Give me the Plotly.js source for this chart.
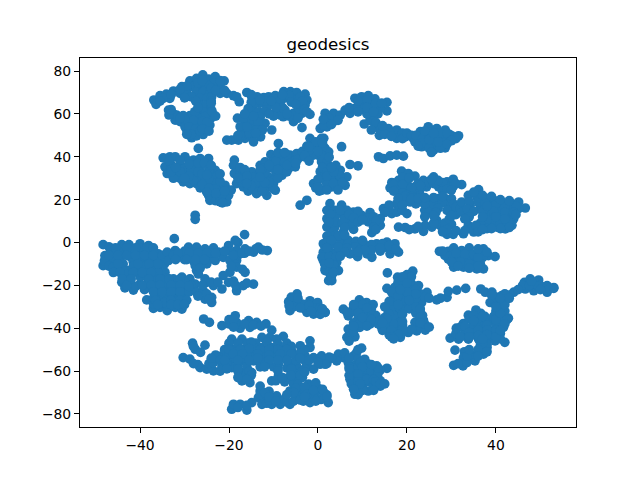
<!DOCTYPE html>
<html><head><meta charset="utf-8">
<script src="https://cdn.plot.ly/plotly-3.0.1.min.js"></script>
<style>html,body{margin:0;padding:0;background:#fff}</style></head>
<body><div id="chart" style="width:640px;height:480px"></div>
<script>
const chartTitle = "geodesics";
const xTicks = [-40,-20,0,20,40];
const yTicks = [-80,-60,-40,-20,0,20,40,60,80];
const northWestA = [[-36.9,66.5],[-36.4,64.5],[-35.5,68.5],[-34.1,69.2],[-32.5,70.7],[-30.6,72.7],[-28.8,75.4],[-27.3,76.6],[-25.9,78.2],[-24.6,76.3],[-23.1,77.4],[-21.1,75.4],[-22,72.7],[-23.5,74.3],[-25,73.5],[-26.5,73.5],[-28,72.7],[-29.5,70.4],[-31,69.6],[-33.3,67.3],[-34.8,67.3],[-27.3,70.4],[-25.8,70.4],[-24.3,70.4],[-26.5,67.3],[-25,67.3],[-23.9,68],[-26.5,64.2],[-25,64.2],[-26.9,61],[-25.4,61],[-24.1,58],[-25.4,58.7],[-27.3,58.7],[-28.8,59.2],[-30.3,59.2],[-31.8,59.5],[-33.6,61.8],[-32.1,57.1],[-31,56.4],[-29.5,56.4],[-27.6,56],[-24.3,54.8],[-26.5,55.1],[-29.5,52.5],[-28.4,48.9],[-27.3,49.8],[-25.8,50.4],[-29.9,54],[-28,51.7],[-20.5,69.6],[-19,68.5],[-17.7,65.7],[-18.3,68],[-22,69.6]];
const northWestAInner = [[-29.5,73],[-27,74.5],[-24,72],[-22,75.5],[-31,71.5],[-33,69],[-35.5,66],[-28.5,68],[-30,67.5],[-23,71],[-21,71],[-27.5,66],[-24,66],[-24,62],[-27.7,61],[-28,57],[-30,57.5],[-32.5,60],[-33.5,59.5],[-26,56.5],[-25,56],[-29,54],[-27.5,53],[-28.5,50.5],[-26.5,52],[-23.8,61],[-24,65],[-26,75.5],[-33,62],[-31,58],[-27,63],[-23,59],[-26,53],[-29.5,50.5],[-24.5,52]];
const northWestB = [[-16,70],[-14.9,68],[-13.7,68],[-12.2,67.6],[-11.1,68],[-9.6,68.5],[-7.7,70.4],[-6.2,70.4],[-4.8,70],[-2.9,69.2],[-2.5,66.5],[-2.9,64.2],[-1.8,59.8],[-3.6,60.3],[-5.5,60.3],[-7.7,67.3],[-6.2,67.3],[-4.8,66.5],[-8.5,64.2],[-7.4,61.8],[-4.4,62.6],[-10,65],[-11.5,64.2],[-13,65],[-14.5,64.2],[-14.9,61],[-13.4,61],[-11.5,62.6],[-9.3,61],[-15.3,58],[-16.4,55.6],[-18.1,58],[-16.8,52.5],[-15.3,52.5],[-14.9,49.3],[-16.4,48.6],[-17.9,47.8],[-19.4,47.8],[-20.5,47.8],[-14.5,54.8],[-17.5,54],[-12.6,54],[-12.9,49.3],[-10.4,52.5],[-11.9,55.6],[-5.5,56.4],[-3.6,53.6],[-7.8,58.7],[-8.9,46.2],[-8.5,59.5]];
const northWestBInner = [[-15,65.5],[-12,66],[-10,67],[-8.5,66],[-6.5,68.5],[-4,68],[-3.5,66],[-8,63],[-9.5,63],[-12,61],[-13,58.5],[-15.5,56.5],[-13.5,56],[-17,50],[-15.5,50.5],[-13.8,52.5],[-6.5,59],[-4.5,58],[-16.8,58],[-15.7,62.5],[-12.5,52.5],[-13,66.5],[-15,69],[-10.5,66],[-8,69],[-6,65.5],[-5,64.5],[-3,62],[-2.5,61],[-7,60],[-10,59],[-11,60],[-14.5,59],[-16.5,60],[-15.5,51],[-17.5,50],[-14.5,47],[-18,50],[-16,54],[-14,51]];
const westMiddleA = [[-26.9,43.9],[-34.8,39.5],[-33.3,40],[-32.1,40],[-29.9,40],[-28,38.4],[-24.6,39.2],[-26.5,39.2],[-34.4,35.3],[-32.9,36.1],[-31,36.1],[-29.5,35.3],[-27.6,35.3],[-26.5,34.5],[-33.9,32.2],[-32.1,32.2],[-30.3,32.2],[-28.4,32.2],[-26.9,30.6],[-30.3,28.3],[-28.8,27.5],[-27.3,27.5],[-25.8,29.8],[-23.1,33.7],[-23.9,31.4],[-22.8,30.6],[-23.5,27.5],[-25,26],[-22,26.7],[-20.9,26.7],[-20.5,24.4],[-24.6,22],[-24.3,19.7],[-22.8,22],[-21.3,20.5],[-20.5,19],[-20.1,22],[-22,24.4],[-27.6,12.7],[-27.6,10.8]];
const westMiddleAInner = [[-33.5,38],[-31,38.5],[-29,38],[-27,37],[-25.5,37],[-33,34],[-30.5,34],[-28.5,34],[-31,30],[-29,30],[-27.5,30],[-32.5,30],[-24.5,29.5],[-25,24],[-26.5,25.5],[-23,25],[-21.5,22.5],[-23,19.5],[-22,19],[-26,27],[-28,29],[-24.5,34],[-22,28.5],[-19.5,24.5],[-33,33],[-31,33],[-29,31],[-27,33],[-32,35],[-29,36.5],[-26,32],[-30,30],[-25,31.5],[-24,36],[-22,32],[-24.5,25.5],[-23,23],[-21,24],[-25,23.5],[-21.5,18.5]];
const westMiddleB = [[-18.8,38.4],[-19,36],[-18.8,32.2],[-17.5,32.2],[-18.3,27.5],[-16.8,30.6],[-16.8,26],[-15.3,25.2],[-13.8,22.8],[-11.5,22],[-9.6,24.4],[-11.1,26],[-13,26],[-14.9,28.3],[-16,29],[-14.9,33],[-13,36],[-11.9,37.6],[-10.6,41],[-9.3,40],[-7.8,40],[-6.3,40.8],[-4.8,41.5],[-5.1,35.3],[-6.6,34.5],[-8.1,31.4],[-10,34.5],[-11.5,34.5],[-13,32.2],[-11.1,30.6],[-12.6,29.8],[-8.5,36],[-10.4,37.6]];
const westMiddleBInner = [[-17.5,35],[-17,28],[-14.5,30.5],[-13,28],[-12,24],[-14.5,25],[-10,27.5],[-9.3,32],[-9.5,38],[-7.5,37.5],[-6,37.5],[-5,38.5],[-12,32.5],[-15.7,24],[-12.5,34.5],[-8,34],[-10,29],[-16.5,34],[-7,41],[-4.5,39],[-3.5,42.5],[-16,31],[-14,28],[-15,26.5],[-12.5,24],[-10,25],[-11,28],[-9,30],[-7,33],[-9,34],[-11,36],[-13,34],[-7,36],[-5,37],[-9,42],[-7.5,42],[-12,28],[-13,30.5],[-3,40],[-16,27.5],[-18,30]];
const centerUpper = [[-1.8,48.6],[1.3,48.6],[-2.5,45],[-1,45.4],[0.5,44.7],[1.6,43.9],[-1,40.8],[0.5,40],[2.4,42.3],[0.8,48.6],[1.2,44.7],[0.8,40.8],[5.3,44.7],[-4,17.4],[-2.5,19.7],[0.5,33],[1.6,31.4],[-1,27.5],[0.3,24],[0.8,37.6],[2.3,36],[7.2,36.4],[9,35.8],[3.5,31.4],[5,33.7],[6.5,30.6],[6.1,26.7],[3.1,26],[0.8,24.4],[1.6,29],[4.6,29]];
const centerUpperInner = [[-0.5,47],[0,42.5],[-2,43],[1,46.5],[-2,44.5],[2,37.5],[3.5,34],[1,35],[3,29],[5,27],[2,27],[0,29.5],[-0.5,25.5],[2,33],[5,31],[4,36],[-3,40.5],[-2,38],[2.5,39.8],[0,26],[2,24.5],[3.5,27.5],[5.5,28],[2,31],[3.5,33],[3,35],[4.5,24.5]];
const northCenter = [[1.6,60.3],[0.5,53.2],[2,54],[3.5,60.3],[1.2,54.8],[3.5,56.4],[5,59.5],[6.1,61.8],[7.2,60.3],[8.3,62.6],[8.3,67.3],[9.8,68],[11.3,68.5],[12.8,67],[15.5,65.4],[15.5,61.4],[14,62.6],[9.8,65],[11.3,65],[12.8,63.4],[10.6,61.8],[11.7,58.7],[10.4,55.3],[11.7,57],[12.8,54],[13.8,50],[15.8,53.2],[17.7,52.5],[17.7,48.6],[16.2,51],[19.6,49.3],[21.4,48.6],[13.6,40],[14.7,39.2],[16.2,40.4],[17.7,40.8],[19.2,40.3]];
const northCenterInner = [[2.5,58],[4.5,57],[7,63],[9,63.5],[9,66],[11,66.5],[13,65],[14.3,65],[13.5,60],[12.5,59.5],[11,60],[13,56],[14,52.5],[15,50.5],[19,51],[20.5,50],[10.5,63],[1.2,57.5],[3,55],[11,63],[12.5,61],[9,61],[12,52.5],[14.5,54.5],[16.5,49.5],[19,48.5],[20,51],[21,50]];
const northEast = [[23,51.7],[24.8,54],[26.7,53.2],[28.6,52.5],[31.6,49.8],[30.1,49.8],[24.8,49.3],[26.7,49.3],[28.6,48.6],[23.3,44.7],[26,43.1],[28.6,44.2],[21.8,47],[24.4,46.2],[26.7,45.4],[22,50],[23.5,48.5],[25.5,51.5],[27.5,51],[29.5,50.5],[23.5,46.5],[26,47],[28,46.5],[27.5,44],[25,44],[29,51],[31,48.5],[24,52],[27,47],[30,47.5],[22.5,45],[25,48],[29,46],[26,51],[25.5,42]];
const eastBandA = [[18.8,33.3],[20.3,32.2],[21.8,31],[16.6,28],[16.2,25.5],[18.1,29],[18.1,26],[20,28.3],[20,24.4],[21.8,26],[21.4,22.8],[23.7,29],[26,30.6],[24.4,26],[27.1,26],[29,28.3],[30.4,29.5],[32.3,27],[28.6,26],[19,30.5],[20.5,30],[17,27],[19,25],[22.5,27.5],[23,25],[25,28],[26,27.5],[28,28],[27,29],[30.5,26.5],[22.5,24],[25.5,29.5],[31,27.5],[19,27],[23,26.5],[28,24],[29,25],[30,24.5],[17.5,24.5],[19,23],[21,25.5],[20,22],[22,21],[23,22],[17,24]];
const eastBandB = [[17.7,18.1],[19.6,19.7],[20.7,18.9],[14.7,15.8],[16.6,13.5],[17.7,14.2],[20,13.5],[25.2,19.7],[27.1,20.5],[28.6,20.5],[24,15],[25.6,17.4],[29.3,17.4],[30.4,15],[23,19],[18.1,7.2],[19.6,7],[21.8,6.4],[24.1,8],[23.7,5.2],[26.7,10.3],[25.6,7.2],[27.4,8],[30,8.5],[29,3.8],[30.4,3.8],[32.7,4.1],[18.5,16.5],[16,15.5],[19,15],[22,18],[24,18],[26,18],[28,18.5],[30,18],[27,16],[31,13],[20.5,6],[22.5,7.5],[26,9],[28.5,9],[29,6],[31,5.5],[28,5],[19.5,21.5],[18,20.5],[21,21.5],[16,17.5],[15,14],[19,17.5],[21,20.5],[22.5,20.5],[24,21],[26,21],[28,21.5],[30,20.5],[30.5,18],[25,14],[26.5,14],[29,15],[31,16.5],[26,12.5],[29.5,11],[32,16],[30,12.5],[24,12]];
const eastLarge = [[36.1,24.7],[33.8,22],[35.7,21.3],[38,20.5],[39.5,19.7],[41.7,18.1],[43.6,18.1],[45.1,18.9],[46.6,16.1],[32.3,18.9],[32.3,14.2],[34.2,17.4],[36.5,16.6],[38.7,16.6],[41,15.8],[43.2,15.8],[45.1,15.8],[38.3,12.7],[40.6,12.7],[42.8,12.7],[44,11.1],[43.6,8],[42.1,6.4],[40.2,7.2],[38.3,8],[36.8,6.4],[35,4.9],[33.8,8],[34,19],[36,19],[37.5,18.5],[40,18],[42,16.5],[44.5,17],[33.5,15.5],[35,14.5],[37,14.5],[39.5,14.5],[42,14],[44,14],[41,10],[39.5,10],[42.8,9.5],[38,10.5],[36.5,9],[41,8.5],[37,12],[34.5,6.5],[38,6.5],[40,12],[42,11],[34,12],[33,11],[35.5,8],[33,5.5],[38,17],[41,20],[43,19.5],[37,22],[35,23.5],[39,21.5],[44.5,13],[43,7],[41,6.5],[39,6.5],[36,5],[37,6]];
const centerMiddle = [[2.7,18.1],[5.3,17.4],[2,15],[3.8,15],[8,14.2],[9.8,12.7],[11.7,14],[11.3,9.6],[14,8],[14,11.1],[12.1,4.6],[8,6.1],[7.2,8.8],[5.7,12.7],[3.8,11.1],[2,11.1],[2,7.2],[3.8,7.2],[5.7,4.9],[2.7,3.3],[5,1.8],[6.8,1],[10.2,-0.3],[13.2,-0.6],[15.5,0.2],[17.3,-0.6],[1.2,-0.6],[3.1,-0.6],[5,-0.6],[6.8,-0.6],[7.2,-5.3],[8.9,-6.6],[10.2,-1.4],[11,-5.3],[12.1,-6.9],[13.2,-1.4],[15.1,-2.2],[16.2,-5.3],[18.1,-4.5],[1.2,-4.5],[2.7,-4.5],[4.2,-4.5],[1.2,-8.4],[3.1,-8.4],[4.6,-13.1],[3.1,-17.8],[2.7,-14.7],[1.6,-12.3],[4.2,-9.2],[0.9,-6.9],[1.6,-13.1],[2.4,-17.8]];
const centerMiddleInner = [[4,13],[6.5,15],[9,14.5],[2.8,13],[4,9.5],[2.5,9.5],[5.5,9],[6,11],[11,11.5],[12.5,9.5],[12.5,12],[3.5,5],[2,3],[4,3.5],[2,0.5],[8.5,0.5],[12,-1],[14.5,-0.5],[16.5,-3],[17,-3],[8.5,-2],[9.5,-3.5],[12,-3.5],[14,-4],[2.5,-2],[4.5,-2],[6.5,-2.5],[2.5,-6.5],[4,-7],[2.5,-11],[3.5,-12],[3,-16],[3.5,-10],[1.5,-10],[5,15],[7,13],[8,11.5],[9,9.5],[10,10.5],[13,10],[12.5,7],[13,6],[6,7],[4.5,3],[3,1],[6,3.5],[10,1],[16,-1.5],[17.5,-3],[14,-2.5],[10.5,-3.5],[6,-4.5],[5,-6.5],[2,-2.5],[3.5,-10.5],[3.5,-14],[2.5,-9.5],[9,-4.5]];
const eastSmall = [[27.3,-4.1],[29.3,-4.1],[30.8,-3.8],[32.3,-3.8],[33.8,-4.5],[37.2,-3],[39.8,-6.6],[38.3,-6.1],[35.7,-6.1],[29.3,-7.7],[31.2,-7.7],[33.1,-7.7],[35,-8.4],[30.5,-11.5],[32.7,-11.5],[37.2,-12.3],[35.7,-12.3],[30,-6],[32,-6],[34,-6],[36.5,-5],[37,-7],[31,-9.5],[33,-9.5],[35,-10.5],[36.5,-10],[28.5,-6],[34,-2.5],[30.5,-2.5],[28,-4],[31,-5],[33,-5.5],[35,-5.5],[36,-7],[32,-9],[34,-10],[30,-9],[36,-11],[34,-12],[31.5,-11],[38,-4.5],[36,-3]];
const southCenterA = [[15.6,-14.2],[17.9,-16.2],[21.3,-13.4],[20.3,-17],[15.5,-21.4],[17.3,-20.9],[19.2,-19.4],[21.1,-19.4],[22.6,-20.1],[24.5,-23.3],[23,-24],[21.1,-24],[19.2,-24.8],[17.7,-27.2],[16.6,-29.5],[15.8,-32.6],[17.7,-32.6],[19.6,-29.5],[21.4,-28.7],[23.3,-28],[23,-32.6],[26.7,-26.8],[29,-25.6],[29.3,-22.8],[31.2,-22.2],[33.2,-21.4],[17,-36.5],[18.5,-35.7],[16.2,-39.6],[18.1,-40.4],[18.5,-44.3],[16,-43.1],[14.3,-39.6],[23.7,-36.2],[21.8,-37.3],[23,-39.6],[24.1,-40.9],[20.3,-42],[22.2,-41.2]];
const southCenterAInner = [[20,-21],[22,-22],[18,-23],[17,-25],[19,-27],[20.5,-25],[22,-26],[24,-25.5],[25,-26],[27.5,-26],[16.5,-31],[18.5,-31],[20.5,-31],[17,-34],[19,-33.5],[22,-33],[23.5,-34],[22,-30],[17,-38],[19,-38.5],[17,-42],[19,-42],[21,-40.5],[24,-38],[15,-37.5],[14.5,-41],[18,-18.5],[20,-15],[21,-16],[23,-31],[16.5,-23],[18,-25],[20,-23],[22,-24],[18.5,-22],[16,-27.5],[15,-30],[15,-35],[16,-33.5],[18,-29],[20.5,-27],[15.5,-35.5],[16.5,-41],[19,-40.5],[19,-37],[18,-43],[16.5,-44],[17,-45],[23,-35],[25,-39.5],[23,-37.5],[19,-16],[20,-19]];
const southCenterB = [[5.7,-31.1],[6.8,-34.2],[8,-30.3],[9.3,-26.8],[10.9,-28],[12.4,-29],[9.4,-31.1],[11.3,-32.6],[9,-35.7],[10.9,-36.5],[12.8,-36.5],[9.4,-39.6],[11.7,-38.1],[6.8,-40.4],[6.5,-44.3],[8.3,-44],[1.6,-32.6],[7.5,-32.5],[10,-29],[8,-37.5],[7.5,-42],[9.5,-37.5],[10.5,-34],[12,-34],[13,-34],[13.5,-38],[10,-33],[8,-39.5],[8,-29],[6.5,-32.5],[9,-33],[12,-31],[11,-30.5],[10,-35],[12,-36],[14,-36.5],[14.5,-37.5],[11,-39],[8,-41.5],[7,-46],[8,-39]];
const southCenterC = [[0.8,-52.9],[2,-56.5],[4.6,-52.1],[5.7,-53.7],[4.2,-55.2],[8,-52.9],[9.8,-49.3],[8.7,-51.3],[6.8,-56],[8.7,-56.8],[11.3,-56.8],[13.2,-57.6],[15.5,-58.7],[7.2,-63.8],[9.1,-60.7],[10.9,-60.7],[12.8,-61.5],[8.3,-67.7],[8.3,-70.8],[10.2,-65.4],[11.3,-69.3],[14,-67],[12.8,-66.2],[0.45,-56.8],[0.45,-68.5],[2,-71.1],[2.3,-74.7],[0.8,-73.2],[6,-51.5],[7,-54],[9,-54.5],[10.5,-54.5],[12.5,-59],[14,-59.5],[8,-59],[8,-62],[8,-65],[9.5,-63],[11.5,-63],[13,-63.5],[10,-67.5],[12.5,-68],[9.5,-69.5],[9,-58],[11,-59],[14,-64.5],[7.5,-61],[11.5,-65],[3,-54],[1.5,-54.5],[1.5,-72],[9,-50],[7,-58],[9.5,-56],[10,-58],[12,-60],[13.5,-61],[7,-62],[9,-61.5],[7.5,-66],[9,-65],[11,-64],[12.5,-64],[13,-65],[10,-69],[9,-71],[12.5,-69],[14,-66],[9.5,-66],[7,-59],[8,-68.5],[15,-66],[13.5,-58.5],[12,-57],[2.5,-53.5],[0,-54.5]];
const eastLower = [[36.6,-21.7],[37.6,-23.2],[39.1,-23.2],[41.3,-24.8],[44,-23.2],[46.4,-18.6],[47.7,-17],[49.6,-17.5],[51.5,-20.1],[53,-21.4],[51.5,-23.2],[48.5,-22.5],[46.6,-21.7],[50,-20.1],[38.7,-28],[40.6,-27.2],[42.1,-27.2],[41.3,-31],[41,-34.2],[42.8,-35.3],[41.7,-39.6],[33.8,-33.9],[36.6,-33.1],[32.7,-37.8],[35,-37.3],[38,-36.5],[39.5,-36.5],[31.1,-40],[33.1,-41.2],[35.3,-41.2],[37.6,-40.4],[39.8,-40.4],[29.7,-44.6],[31.6,-45.1],[33.8,-45.1],[36.1,-45.1],[38.3,-45.1],[39.8,-45.9],[42,-46.6],[38,-49],[36.5,-48.2],[37.2,-52.1],[35.3,-55.2],[30.8,-50.2],[32.9,-51],[32.7,-53.7],[30.5,-57.3],[32.6,-57.6],[34.6,-54.4],[35.7,-52.1]];
const eastLowerInner = [[46,-20],[48,-19.5],[49.5,-20.5],[52,-21.5],[43,-24.5],[42,-24],[40,-25.5],[41,-29],[42,-32],[40,-32],[39.5,-34.5],[41,-36.5],[40,-38.5],[37,-38.5],[34,-35.5],[36,-35.5],[32,-39.5],[34.5,-39.5],[31,-42.5],[33,-43],[35,-43],[37.5,-43],[39.5,-43],[41,-42.5],[36.5,-46.5],[38,-47.5],[36.5,-50.5],[37,-47],[35,-53.5],[31.5,-56.5],[33.5,-56],[37.5,-34.5],[35.5,-31.5],[41,-45],[34,-52.5],[35,-34],[37,-34.5],[40,-36],[38,-38.5],[36,-40],[33,-39],[34,-42],[36,-41],[38,-41],[40,-41],[36,-43.5],[38,-43],[40,-44],[32,-44],[34,-44],[37,-45],[36,-50],[38,-51],[36,-53],[41,-33],[40,-30],[42,-29],[43,-26],[41,-26],[39,-24.5],[42.5,-36],[42,-38],[41,-41],[35,-36.5],[33.5,-53],[34,-50],[47.5,-20],[50,-22],[53,-21],[48,-18],[45,-22]];
const westMain = [[-48.3,-1],[-44.1,-1],[-40,-0.6],[-38.1,-1.4],[-47.9,-6.1],[-46,-5.3],[-44.1,-4.5],[-41.5,-4.5],[-39.6,-4.5],[-37.8,-4.5],[-35.9,-5.3],[-48.3,-10.8],[-46,-9.2],[-43.8,-10],[-41.5,-9.2],[-39.3,-8.4],[-37,-8.4],[-45.3,-13.1],[-42.6,-13.1],[-40.4,-12.3],[-38.1,-13.1],[-35.9,-11.5],[-34.4,-13.9],[-44.1,-18.6],[-43.4,-21.2],[-41.5,-22.2],[-42.3,-18.6],[-40,-19.4],[-38.1,-18.6],[-38.5,-26.8],[-36.6,-18.6],[-34.4,-18.6],[-32.5,-17],[-30.6,-16.2],[-28.8,-17],[-27.3,-13.1],[-27.6,-19.4],[-35.5,-22.5],[-33.6,-21.7],[-31.8,-21],[-29.5,-21],[-29.9,-24.8],[-31.8,-25.6],[-34,-25.6],[-35.9,-26.4],[-37,-30.7],[-35.5,-30.3],[-33.9,-31.8],[-32.1,-30.3],[-30.6,-31.1],[-34,-28.7]];
const westMainInner = [[-47,-2],[-42.5,-1],[-40,-2.5],[-46.5,-3],[-48,-8.5],[-46,-7.5],[-44.5,-7.5],[-42,-7],[-40,-6.5],[-38,-6.5],[-36,-7.5],[-47,-11],[-44.5,-12],[-43.5,-13.5],[-41.5,-11],[-39,-11],[-37,-11],[-34.5,-10],[-36,-14],[-36.5,-17],[-40,-16],[-38.5,-16],[-34,-16.5],[-32,-19],[-30,-18.5],[-38,-21],[-36,-20.5],[-34.5,-20],[-41,-20.5],[-39,-22],[-36.5,-24],[-33,-24],[-31,-23],[-28,-19.5],[-37,-28.5],[-32,-28],[-30,-28],[-37,-26],[-34.5,-28],[-43,-15],[-46,-11.5],[-45.5,-2.5],[-43,-2.5],[-41,-2.5],[-38.5,-2.5],[-37,-2.5],[-47,-6],[-45,-6],[-43,-6],[-41,-6],[-39,-6],[-37,-6],[-35,-6],[-45,-10],[-40.5,-10],[-38,-10],[-36,-10],[-46,-14],[-44.5,-14],[-41.5,-14],[-39.5,-14],[-37.5,-14],[-44,-17],[-42,-17],[-38,-17],[-35.5,-17],[-33.5,-17],[-31,-17],[-43,-20],[-39.5,-20],[-37.5,-20],[-35.5,-20],[-33,-20],[-31,-20],[-28.5,-20],[-37,-23],[-35,-23],[-33,-23],[-31,-23],[-29,-23],[-36.5,-27],[-33,-27],[-31,-27],[-29.5,-27],[-36,-29],[-33,-29],[-31.5,-29],[-30,-29]];
const westBranch = [[-33.9,-4.5],[-32.1,-3.75],[-31,-6.1],[-29.1,-2.2],[-27.3,-2.2],[-25.4,-3],[-23.5,-2.5],[-22.4,-4.5],[-28.8,-6.9],[-26.5,-6.9],[-24.3,-7.7],[-23.1,-8.4],[-33.6,-8.4],[-27.6,-10.8],[-26.9,-14.7],[-25.4,-17],[-21.3,-6.9],[-32.3,1.8],[-16.5,3.7],[-18,0],[-18.6,1],[-20.1,-1.4],[-18.3,-3.75],[-16.4,-3],[-14.5,-4.5],[-13.4,-2.2],[-11.4,-3.75],[-19.8,-8.4],[-18.3,-8.4],[-18.3,-11.5],[-16.4,-13.9],[-19.8,-13.9],[-21.3,-15.4],[-25,-18.6],[-23.5,-20.1],[-21.6,-21.7],[-20.1,-18.6],[-18.3,-22.5],[-16.8,-20.1],[-14.5,-19.4],[-27.3,-23.3],[-25.8,-22.5],[-25.4,-26.4],[-23.9,-28],[-23.9,-25.6]];
const westBranchInner = [[-30,-4],[-28,-4.5],[-26,-4.5],[-24,-4.8],[-30,-8],[-25,-10],[-26,-9],[-28,-8.5],[-32.5,-6],[-20,-4],[-18,-6],[-16.5,-5],[-14,-3],[-12.5,-3.5],[-19.5,-11],[-17,-12.5],[-26.5,-12],[-26,-20],[-24,-18.5],[-22.5,-18.5],[-18.5,-20],[-19,-18],[-16,-19],[-27,-25],[-25,-24],[-24.5,-26.5],[-29,-20.5],[-31.5,-5],[-29,-5],[-27,-5],[-25,-5],[-23,-5],[-32,-8],[-29.5,-8],[-27.5,-8],[-25.5,-8],[-21,-4],[-19,-6],[-17,-5],[-15.5,-4]];
const southWestA = [[-25.7,-35.7],[-24.4,-37.3],[-21.6,-38.8],[-20.1,-38],[-18.6,-34.2],[-17.5,-40],[-18.3,-37.3],[-15.6,-36.5],[-13.8,-37.3],[-15.3,-39.6],[-11.7,-38],[-10.4,-40.9],[-28.2,-47],[-27.6,-49.8],[-25.4,-47.9],[-26.4,-51.3],[-30.3,-53.7],[-28.8,-54.4],[-26.5,-58.4],[-25,-59.1],[-23.5,-59.9],[-20,-36],[-19,-36],[-16.5,-38],[-14.5,-38.5],[-12.8,-39],[-19,-39.5],[-28,-48.5],[-27,-57],[-24.5,-58],[-22,-60],[-28,-56.5],[-24.5,-56.5]];
const southWestB = [[-23.5,-56],[-21.6,-52.9],[-21.6,-57.6],[-19.4,-45.1],[-20.1,-49],[-17.1,-45.1],[-18.6,-49.8],[-19.4,-54.4],[-19.4,-58.4],[-16.8,-49.8],[-16.8,-55.2],[-16.8,-60.7],[-17.1,-64.6],[-15.3,-65.4],[-14.9,-60.7],[-14.9,-51.3],[-14.5,-55.2],[-12.6,-44.3],[-10.8,-44.3],[-7.8,-43.8],[-9.3,-45.1],[-12.6,-49],[-10.4,-49],[-8.1,-49.8],[-12.6,-53.7],[-10.4,-53.7],[-8.1,-53.7],[-6.6,-56],[-8.9,-56.8],[-11.5,-56],[-4.8,-57.6],[-5.9,-50.6],[-4,-48.2],[-1.8,-45.9],[-1.8,-49],[-2.9,-52.9],[-1,-53.7],[0.6,-53.7],[1.6,-56.8],[-1,-59.1],[-2.5,-56.8],[-4.8,-61.5],[-8.9,-62.3],[-10.4,-64.6],[-6.6,-63],[-4.8,-64.6]];
const southWestBInner = [[-20,-47],[-18,-47],[-15.8,-47],[-14,-47],[-14,-49.5],[-11.5,-46.5],[-9,-47.5],[-7,-47],[-6,-48.5],[-21,-50],[-23,-52.5],[-20,-52],[-18,-52],[-16,-52.5],[-12,-51.5],[-9.5,-51.5],[-7,-52],[-5,-53],[-3,-50],[-4,-51.5],[-24,-54],[-22,-55],[-20.5,-56.5],[-18,-57],[-16,-58],[-13,-58],[-10,-58],[-7,-58.5],[-5,-55],[-3,-55],[0,-56],[-3,-59],[-18,-60],[-15.5,-63],[-13,-56],[-6,-60.5],[-3.5,-63],[-9.5,-64.5],[-7.5,-65],[-5.5,-66],[-15,-46.5],[-20,-50],[-17.5,-50],[-15.5,-49.5],[-13,-50],[-11,-50],[-9,-50],[-7,-50],[-19,-52],[-17,-52],[-13.5,-52],[-11,-52.5],[-8.5,-52],[-6,-52],[-21,-55],[-18,-55],[-15.5,-55],[-13.5,-54],[-11,-55],[-9,-55],[-7,-55],[-4,-54],[-2,-55],[-20.5,-59],[-18,-59],[-15.5,-60],[-12,-58],[-9,-59],[-6,-59],[-3.5,-60],[-18,-63],[-15,-62],[-16,-64],[-9,-60],[-8,-63],[-6,-62],[-4,-62],[-3,-60.5]];
const southBottom = [[-13,-69.3],[-11.5,-71.6],[-13.4,-72.4],[-12.6,-75.5],[-9.3,-71.6],[-10.4,-75.5],[-8.5,-75.5],[-6.3,-75.5],[-6.3,-69.3],[-4.4,-67.7],[-3.3,-74],[-1.8,-74.7],[-2.1,-66.1],[-0.2,-67.7],[1.3,-70],[0.5,-73.2],[-0.6,-71.6],[-4.8,-70.8],[-19.4,-77.8],[-19,-75.5],[-17.5,-75.5],[-16,-78.2],[-14.9,-74.7],[-12,-73],[-11,-69.5],[-7.5,-73],[-5,-72.5],[-4,-71.5],[-3,-69],[-1.5,-70],[-1,-72.5],[-18,-77],[-16,-76],[-11.5,-75],[-4.5,-66],[-0.5,-65.5],[-13,-67],[-11,-73.5],[-13,-71],[-12,-70],[-11,-72],[-9.5,-74],[-7,-74.5],[-5.5,-74],[-4,-73.5],[-5,-68],[-3,-67.5],[-2.5,-71],[-1,-69],[-0.5,-74],[1,-68.5],[2,-72],[-3,-72],[-5.5,-70],[-7,-71]];
const centerLow = [[-4.7,-24],[-6.6,-27.6],[-6.3,-31.8],[-3.6,-28.7],[-1.8,-27.2],[-0.1,-28],[-2.5,-32.6],[-1,-33.4],[1.6,-32.6],[-0.1,-32.6],[-5,-27.5],[-3,-31],[-5.5,-30],[-1,-30.5],[0.5,-30.5],[-6,-25.5],[0.5,-33.5],[-3,-29],[-2,-29.5],[-4,-30.5],[-1.5,-32],[-6.5,-29.5],[1,-31],[-4.5,-26]];

const clusters = [northWestA,northWestAInner,northWestB,northWestBInner,westMiddleA,westMiddleAInner,westMiddleB,westMiddleBInner,centerUpper,centerUpperInner,northCenter,northCenterInner,northEast,eastBandA,eastBandB,eastLarge,centerMiddle,centerMiddleInner,eastSmall,southCenterA,southCenterAInner,southCenterB,southCenterC,eastLower,eastLowerInner,westMain,westMainInner,westBranch,westBranchInner,southWestA,southWestB,southWestBInner,southBottom,centerLow];
const points = clusters.flat();
const font = {family:"DejaVu Sans", size:13.9, color:"#000"};
const axisBase = {showgrid:false, zeroline:false, showline:true, mirror:true, linecolor:"#000", linewidth:1,
  ticks:"outside", ticklen:5, tickwidth:1, tickcolor:"#000", tickfont:font, tickmode:"array"};
Plotly.newPlot("chart",[{
  type:"scatter", mode:"markers",
  x:points.map(p=>p[0]), y:points.map(p=>p[1]),
  marker:{color:"#1f77b4", size:9.7, line:{width:0}}, hoverinfo:"skip"
}],{
  width:640, height:480, paper_bgcolor:"#fff", plot_bgcolor:"#fff", showlegend:false,
  margin:{l:80,r:64,t:58,b:53,pad:0},
  title:{text:chartTitle, font:{family:"DejaVu Sans", size:16.67, color:"#000"}, x:0.5, xref:"paper", xanchor:"center", y:1-50/480, yref:"container", yanchor:"bottom"},
  xaxis:Object.assign({},axisBase,{range:[-53.5,58],tickvals:xTicks,ticktext:xTicks.map(v=>String(v).replace("-","\u2212"))}),
  yaxis:Object.assign({},axisBase,{range:[-86.1,86.1],tickvals:yTicks,ticktext:yTicks.map(v=>String(v).replace("-","\u2212"))})
},{displayModeBar:false,staticPlot:true});
</script></body></html>
